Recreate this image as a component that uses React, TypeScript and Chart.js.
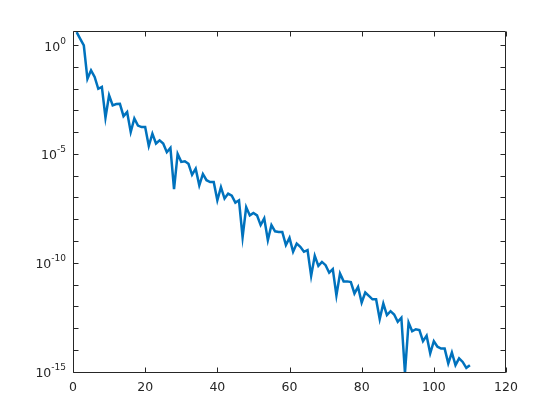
import React, { useEffect, useRef } from "react";
import { Chart, registerables } from "chart.js";

Chart.register(...registerables);

// ---- data -------------------------------------------------------------
const xValues = [
  1, 2, 3, 4, 5, 6, 7, 8, 9, 10,
  11, 12, 13, 14, 15, 16, 17, 18, 19, 20,
  21, 22, 23, 24, 25, 26, 27, 28, 29, 30,
  31, 32, 33, 34, 35, 36, 37, 38, 39, 40,
  41, 42, 43, 44, 45, 46, 47, 48, 49, 50,
  51, 52, 53, 54, 55, 56, 57, 58, 59, 60,
  61, 62, 63, 64, 65, 66, 67, 68, 69, 70,
  71, 72, 73, 74, 75, 76, 77, 78, 79, 80,
  81, 82, 83, 84, 85, 86, 87, 88, 89, 90,
  91, 92, 93, 94, 95, 96, 97, 98, 99, 100,
  101, 102, 103, 104, 105, 106, 107, 108, 109, 110,
];

const yValues = [
  3.9, 1.9, 0.95, 2.8e-2, 6.9e-2, 3.4e-2, 9.8e-3, 1.2e-2, 4.6e-4, 4.9e-3,
  1.7e-3, 1.95e-3, 2.0e-3, 5.4e-4, 8.3e-4, 1.0e-4, 4.2e-4, 2.0e-4, 1.7e-4, 1.7e-4,
  2.3e-5, 8.5e-5, 3.0e-5, 4.2e-5, 3.0e-5, 1.2e-5, 1.9e-5, 2.4e-7, 1.0e-5, 4.3e-6,
  4.6e-6, 3.5e-6, 1.1e-6, 2.1e-6, 3.6e-7, 1.2e-6, 6.2e-7, 5.1e-7, 5.1e-7, 7.4e-8,
  3.0e-7, 8.9e-8, 1.5e-7, 1.2e-7, 5.8e-8, 7.4e-8, 1.5e-9, 3.6e-8, 1.5e-8, 1.95e-8,
  1.5e-8, 5.4e-9, 1.1e-8, 1.1e-9, 5.4e-9, 2.8e-9, 2.6e-9, 2.6e-9, 6.5e-10, 1.4e-9,
  3.2e-10, 7.6e-10, 5.4e-10, 3.2e-10, 3.8e-10, 2.5e-11, 2.1e-10, 7.2e-11, 1.1e-10, 7.8e-11,
  3.5e-11, 5.1e-11, 3.2e-12, 3.2e-11, 1.4e-11, 1.4e-11, 1.3e-11, 3.9e-12, 7.8e-12, 1.5e-12,
  4.3e-12, 3.0e-12, 2.1e-12, 2.1e-12, 2.6e-13, 1.35e-12, 4.0e-13, 6.0e-13, 4.2e-13, 1.95e-13,
  3.0e-13, 8.7e-16, 1.8e-13, 7.2e-14, 8.9e-14, 8.1e-14, 2.5e-14, 4.5e-14, 6.9e-15, 2.5e-14,
  1.4e-14, 1.15e-14, 1.15e-14, 2.4e-15, 7.6e-15, 2.0e-15, 4.1e-15, 2.8e-15, 1.5e-15, 2.0e-15,
];

const xTickValues = [0, 20, 40, 60, 80, 100, 120];
const yTickValues = [
  1e-15, 1e-14, 1e-13, 1e-12, 1e-11, 1e-10, 1e-9, 1e-8,
  1e-7, 1e-6, 1e-5, 1e-4, 1e-3, 1e-2, 1e-1, 1,
];
const yLabelValues = [1, 1e-5, 1e-10, 1e-15];
const yLabelBase = "10";
const yLabelExponents = ["0", "-5", "-10", "-15"];

const xMin = 0;
const xMax = 120;
const yMin = 8.7e-16;
const yMax = 4.4;

// ---- styles -----------------------------------------------------------
const AXIS_COLOR = "#262626";
const LINE_COLOR = "#0072BD";
const FONT = '"DejaVu Sans", sans-serif';

const matlabAxes = {
  id: "matlabAxes",
  afterDraw(chart: any) {
    const { ctx, chartArea: a, scales } = chart;
    const xs = scales.x;
    const ys = scales.y;
    const L = Math.round(a.left) + 0.5;
    const R = Math.round(a.right) - 0.5;
    const T = Math.round(a.top) + 0.5;
    const B = Math.round(a.bottom) - 0.5;
    const tl = 5;
    ctx.save();
    ctx.strokeStyle = AXIS_COLOR;
    ctx.lineWidth = 1;
    ctx.beginPath();
    ctx.rect(L, T, R - L, B - T);
    // x ticks (inward, bottom and top)
    xs.ticks.forEach((t: any) => {
      const px = Math.round(xs.getPixelForValue(t.value)) + 0.5;
      ctx.moveTo(px, B);
      ctx.lineTo(px, B - tl);
      ctx.moveTo(px, T);
      ctx.lineTo(px, T + tl);
    });
    // y ticks (inward, left and right)
    ys.ticks.forEach((t: any) => {
      const py = Math.round(ys.getPixelForValue(t.value)) + 0.5;
      ctx.moveTo(L, py);
      ctx.lineTo(L + tl, py);
      ctx.moveTo(R, py);
      ctx.lineTo(R - tl, py);
    });
    ctx.stroke();

    // y labels as 10 with superscript exponent
    ctx.fillStyle = AXIS_COLOR;
    ctx.textAlign = "right";
    ctx.textBaseline = "alphabetic";
    const rightEdge = a.left - 7;
    yLabelValues.forEach((v, i) => {
      const py = ys.getPixelForValue(v);
      const exp = yLabelExponents[i];
      ctx.font = "9px " + FONT;
      const ew = ctx.measureText(exp).width;
      ctx.fillText(exp, rightEdge, py - 1.5);
      ctx.font = "12.5px " + FONT;
      ctx.fillText(yLabelBase, rightEdge - ew, py + 5.5);
    });
    ctx.restore();
  },
};

export default function App() {
  const canvasRef = useRef<HTMLCanvasElement | null>(null);

  useEffect(() => {
    const canvas = canvasRef.current;
    if (!canvas) return;
    const points = xValues.map((x, i) => ({ x, y: yValues[i] }));
    const chart = new Chart(canvas, {
      type: "line",
      data: {
        datasets: [
          {
            data: points,
            borderColor: LINE_COLOR,
            backgroundColor: LINE_COLOR,
            borderWidth: 2.5,
            pointRadius: 0,
            tension: 0,
            fill: false,
          },
        ],
      },
      options: {
        animation: false,
        responsive: false,
        devicePixelRatio: 1,
        layout: { padding: { top: 31, right: 54, bottom: 0, left: 0 } },
        plugins: {
          legend: { display: false },
          tooltip: { enabled: false },
        },
        scales: {
          x: {
            type: "linear",
            min: xMin,
            max: xMax,
            grid: { display: false, drawTicks: false },
            border: { display: false },
            afterBuildTicks: (scale: any) => {
              scale.ticks = xTickValues.map((v) => ({ value: v }));
            },
            afterFit: (scale: any) => {
              scale.height = 47;
            },
            ticks: {
              color: AXIS_COLOR,
              font: { family: FONT, size: 12.5 },
              padding: 7,
              maxRotation: 0,
              autoSkip: false,
            },
          },
          y: {
            type: "logarithmic",
            min: yMin,
            max: yMax,
            grid: { display: false, drawTicks: false },
            border: { display: false },
            afterBuildTicks: (scale: any) => {
              scale.ticks = yTickValues.map((v) => ({ value: v }));
            },
            afterFit: (scale: any) => {
              scale.width = 73;
            },
            ticks: {
              display: false,
              autoSkip: false,
            },
          },
        },
      },
      plugins: [matlabAxes],
    });
    return () => chart.destroy();
  }, []);

  return (
    <div
      style={{
        position: "fixed",
        left: 0,
        top: 0,
        width: 560,
        height: 420,
        background: "#ffffff",
      }}
    >
      <canvas
        ref={canvasRef}
        width={560}
        height={420}
        style={{ display: "block", width: 560, height: 420 }}
      />
    </div>
  );
}
